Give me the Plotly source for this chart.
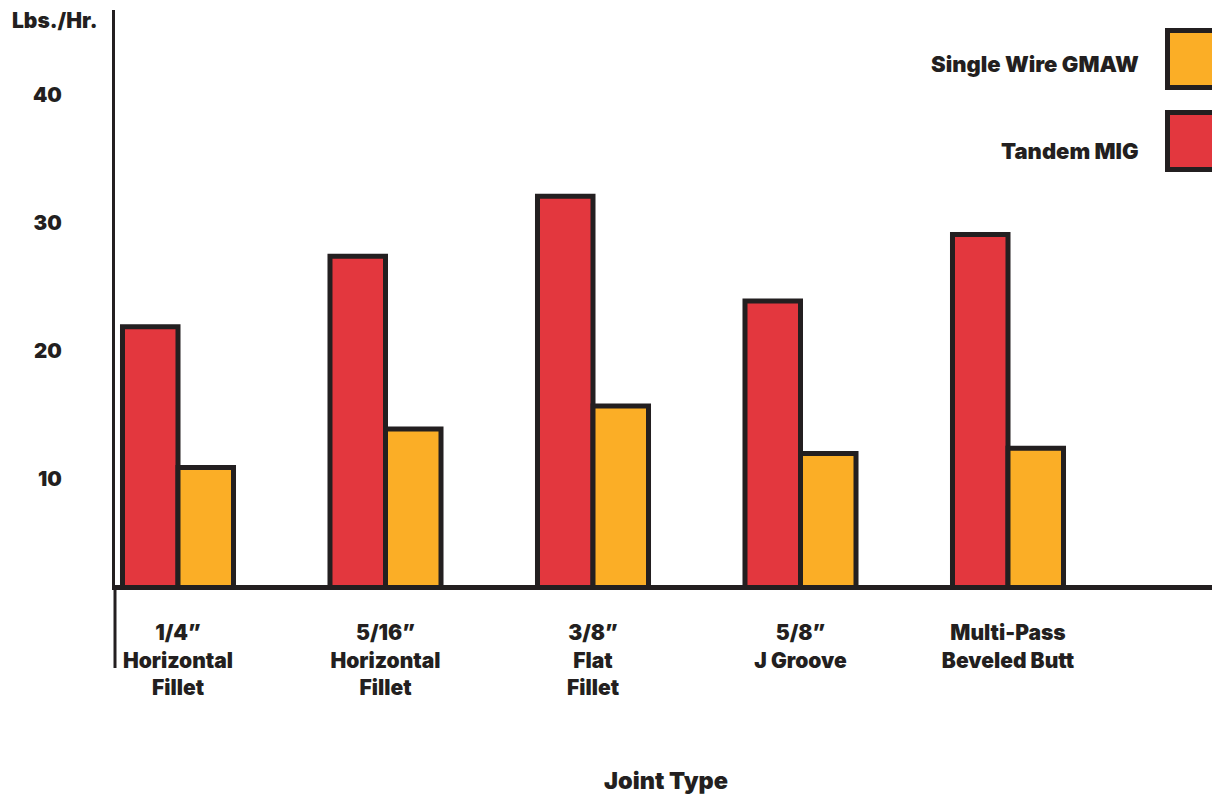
import plotly.graph_objects as go

# ---- data ----
categories = [
    "1/4”<br>Horizontal<br>Fillet",
    "5/16”<br>Horizontal<br>Fillet",
    "3/8”<br>Flat<br>Fillet",
    "5/8”<br>J Groove",
    "Multi-Pass<br>Beveled Butt",
]
tandem_mig = [21.9, 27.4, 32.1, 23.9, 29.1]
single_wire = [10.9, 13.9, 15.7, 12.0, 12.4]
y_ticks = [10, 20, 30, 40]
series_names = ["Tandem MIG", "Single Wire GMAW"]

# ---- style ----
RED = "#E3373E"
YELLOW = "#FBAE26"
INK = "#231F20"
FONT = "Inter, Liberation Sans, Arial, sans-serif"
WEIGHT = 900

OFF = 8  # page body margin
W, H = 1220 - OFF, 795 - OFF
ML, MT = 115 - OFF, 10 - OFF
BASE = 585 - OFF
MR, MB = 0, H - BASE
PW, PH = W - ML - MR, H - MT - MB


def px(x):
    return (x - OFF - ML) / PW


def py(y):
    return (BASE - (y - OFF)) / PH


def f(size):
    return dict(family=FONT, size=size, color=INK, weight=WEIGHT)


fig = go.Figure()
fig.add_trace(go.Bar(
    x=categories, y=tandem_mig, name=series_names[0],
    marker=dict(color=RED, line=dict(color=INK, width=5)),
    showlegend=False,
))
fig.add_trace(go.Bar(
    x=categories, y=single_wire, name=series_names[1],
    marker=dict(color=YELLOW, line=dict(color=INK, width=5)),
    showlegend=False,
))

shapes = [
    dict(type="line", xref="paper", yref="paper", x0=0, x1=0,
         y0=py(585), y1=py(668), line=dict(color=INK, width=3), layer="above"),
    dict(type="rect", xref="paper", yref="paper",
         x0=px(1167.5), x1=px(1232), y0=py(30.5), y1=py(87.5),
         fillcolor=YELLOW, line=dict(color=INK, width=5)),
    dict(type="rect", xref="paper", yref="paper",
         x0=px(1167.5), x1=px(1232), y0=py(112.5), y1=py(169.5),
         fillcolor=RED, line=dict(color=INK, width=5)),
]

annotations = [
    dict(text="Lbs./Hr.", xref="paper", yref="paper", x=px(55), y=py(20),
         xanchor="center", yanchor="middle", showarrow=False, font=f(21)),
    dict(text="Joint Type", xref="paper", yref="paper", x=px(666), y=py(781),
         xanchor="center", yanchor="middle", showarrow=False, font=f(23.5)),
    dict(text=series_names[1], xref="paper", yref="paper", x=px(1141), y=py(64),
         xanchor="right", yanchor="middle", showarrow=False, font=f(22)),
    dict(text=series_names[0], xref="paper", yref="paper", x=px(1141), y=py(151),
         xanchor="right", yanchor="middle", showarrow=False, font=f(22)),
]

x0_px, step_px = 178, 207.5
r0 = -(x0_px - 115) / step_px
r1 = r0 + PW / step_px

y_bottom = 1.72
y_top = y_bottom + PH / 12.8

fig.update_layout(
    width=W, height=H,
    margin=dict(l=ML, r=MR, t=MT, b=MB, pad=0),
    paper_bgcolor="white", plot_bgcolor="white",
    barmode="group", bargap=0.465, bargroupgap=0,
    font=dict(family=FONT, color=INK),
    shapes=shapes, annotations=annotations,
    xaxis=dict(
        type="category", range=[r0, r1], showgrid=False, zeroline=False,
        showline=True, linecolor=INK, linewidth=5, ticks="",
        tickfont=f(21), ticklabelstandoff=25,
    ),
    yaxis=dict(
        range=[y_bottom, y_top], tickvals=y_ticks, showgrid=False, zeroline=False,
        showline=True, linecolor=INK, linewidth=3, ticks="",
        tickfont=f(20.5), ticklabelstandoff=46,
    ),
)

fig.write_html("out.html")
